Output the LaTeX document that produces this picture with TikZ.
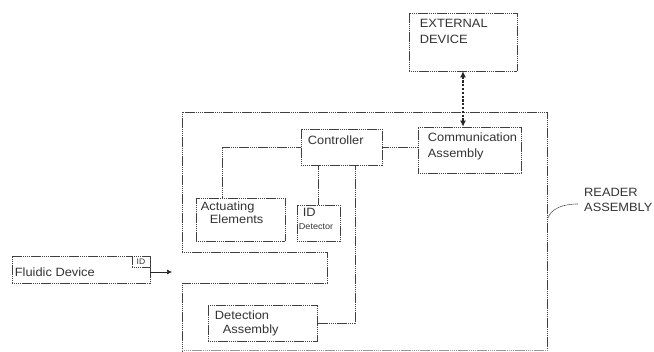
\documentclass[tikz,border=0pt]{standalone}
\usepackage{fontspec}
\setmainfont[FakeStretch=1.07]{Liberation Sans}
\usetikzlibrary{arrows.meta,calc}
\begin{document}
\begin{tikzpicture}[x=1pt,y=-1pt,
  ln/.style={draw=black!75,line width=0.6pt,dash pattern=on 1.4pt off 0.5pt},
  box/.style={ln,inner sep=0pt,fill=white},
  lbl/.style={inner sep=0pt,text=black!80,align=left,font=\fontsize{12}{16}\selectfont},
  conn/.style={ln},
  dbl/.style={draw=black!85,line width=1.3pt,dash pattern=on 2.2pt off 1.6pt,{Latex[length=6pt,width=6pt]}-{Latex[length=6pt,width=6pt]}}
]
\useasboundingbox (0,0) rectangle (654,352);
% reader assembly outline
\draw[ln] (182,252) -- (182,112) -- (547,112) -- (547,352);
\draw[ln] (182,252) -- (327,252) -- (327,283) -- (182,283) -- (182,352);
\draw[ln,draw=black!40] (182,350) -- (547,350);
% boxes
\node[box,minimum width=108,minimum height=58,
  label={[lbl,anchor=north west,xshift=11,yshift=-6]north west:EXTERNAL\\DEVICE}] (ext) at (463,42) {};
\node[box,minimum width=103,minimum height=46,
  label={[lbl,anchor=north west,xshift=10,yshift=-6]north west:Communication\\Assembly}] (comm) at (469.5,150) {};
\node[box,minimum width=81,minimum height=36,
  label={[lbl,anchor=north west,xshift=7,yshift=-7]north west:Controller}] (ctrl) at (341.5,147) {};
\node[box,minimum width=89,minimum height=43,
  label={[lbl,anchor=north west,xshift=5,yshift=-4,font=\fontsize{12}{12.5}\selectfont]north west:Actuating\\\hspace{9pt}Elements}] (act) at (240.5,219.5) {};
\node[box,minimum width=43,minimum height=36,
  label={[lbl,anchor=north west,xshift=2,yshift=-3,font=\fontsize{12}{13}\selectfont]north west:\hspace{4pt}ID\\{\fontsize{8.5}{9}\selectfont Detector}}] (idd) at (318.5,223) {};
\node[box,minimum width=109,minimum height=36,
  label={[lbl,anchor=north west,xshift=7,yshift=-6,font=\fontsize{12}{14}\selectfont]north west:Detection\\\hspace{8pt}Assembly}] (det) at (262.5,323) {};
\node[box,minimum width=138,minimum height=27,
  label={[lbl,anchor=west,xshift=3,yshift=-3]west:Fluidic Device}] (fluid) at (81,269.5) {};
\node[box,anchor=north east,minimum width=18,minimum height=11,
  font=\fontsize{8}{8}\selectfont,text=black!80] (idtag) at (fluid.north east) {ID};
\coordinate (slot) at (172,272);
\coordinate (lead) at (578,204);
\node[lbl,anchor=north west,font=\fontsize{12}{15}\selectfont] (reader) at (584,188) {READER\\ASSEMBLY};
% connectors
\draw[dbl] (ext.south) -- (ext.south |- comm.north);
\draw[conn] (ctrl.east) -- (comm.west |- ctrl.east);
\draw[conn] (ctrl.west) -| ([xshift=-18.5pt]act.north);
\draw[conn] (ctrl.south -| idd.north) -- (idd.north);
\draw[conn] ([xshift=13.5pt]ctrl.south) |- (det.east);
\draw[draw=black!85,line width=0.6pt,-{Latex[length=5pt,width=5pt]}] (fluid.east |- slot) -- (slot);
\draw[ln] (lead) .. controls (562,204) and (551,209) .. (548,218);
\end{tikzpicture}
\end{document}
